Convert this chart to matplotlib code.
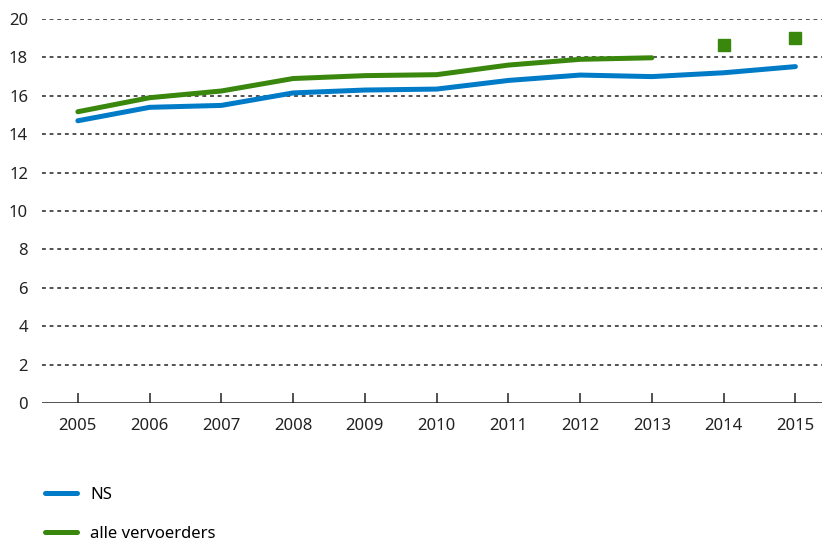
import numpy as np
import matplotlib
matplotlib.use('Agg')
import matplotlib.pyplot as plt
from matplotlib.lines import Line2D

#----------------------------------------------------------------------------------------#
# Data

years = [2005, 2006, 2007, 2008, 2009, 2010, 2011, 2012, 2013, 2014, 2015]
ns = [14.7, 15.4, 15.5, 16.15, 16.3, 16.35, 16.8, 17.08, 17.0, 17.2, 17.52]

years_all = [2005, 2006, 2007, 2008, 2009, 2010, 2011, 2012, 2013]
alle = [15.17, 15.9, 16.25, 16.9, 17.05, 17.1, 17.6, 17.9, 17.98]

years_all_est = [2014, 2015]
alle_est = [18.63, 19.03]

yticks = list(range(0, 21, 2))

blue = '#007BC7'
green = '#39870C'

#----------------------------------------------------------------------------------------#
# Plot

plt.rcParams['font.family'] = ['Noto Sans', 'DejaVu Sans']

fig = plt.figure(figsize=(8.22, 5.42), dpi=100)
ax = fig.add_axes([42/822, (542-403)/542, 780/822, 384/542])

for y in yticks[1:]:
    ax.axhline(y, color='#222222', lw=1.1, ls=(0, (2.5, 2.5)), zorder=1)
ax.axhline(0, color='#222222', lw=1.1, zorder=2)

ax.plot(years, ns, color=blue, lw=3.6, solid_capstyle='round', zorder=3)
ax.plot(years_all, alle, color=green, lw=3.6, solid_capstyle='round', zorder=3)
ax.plot(years_all_est, alle_est, ls='none', marker='s', ms=8, color=green, zorder=3)

ax.set_xlim(2004.5, 2004.5 + 780/71.75)
ax.set_ylim(0, 20)
ax.set_xticks(years)
ax.set_xticklabels([str(y) for y in years], fontsize=12, color='#222222')
ax.set_yticks(yticks)
ax.set_yticklabels([str(y) for y in yticks], fontsize=12, color='#222222')
ax.tick_params(axis='x', direction='in', length=7, width=1.1, color='#222222', pad=11)
ax.tick_params(axis='y', length=0, pad=10)
for s in ax.spines.values():
    s.set_visible(False)

handles = [Line2D([], [], color=blue, lw=3.6, solid_capstyle='round'),
           Line2D([], [], color=green, lw=3.6, solid_capstyle='round')]
fig.legend(handles, ['NS', 'alle vervoerders'], loc='upper left',
           bbox_to_anchor=(30/822, 1 - 472/542), frameon=False, fontsize=12,
           handlelength=1.9, handletextpad=0.8, labelspacing=1.35)

plt.savefig('out.png', dpi=100)
